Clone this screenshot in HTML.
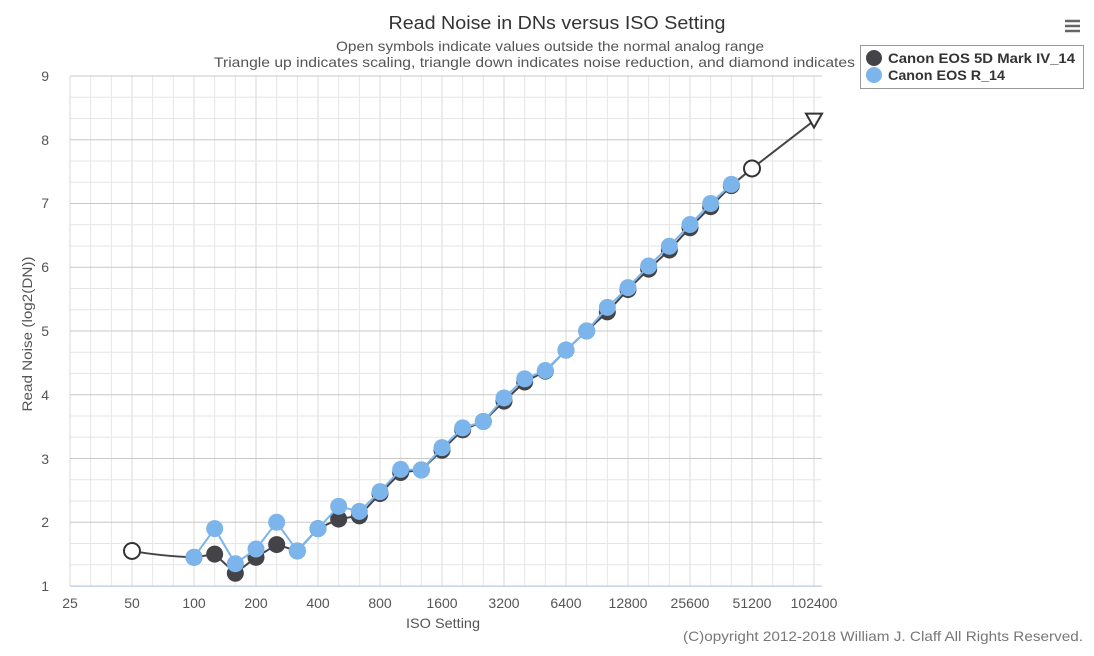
<!DOCTYPE html>
<html><head><meta charset="utf-8"><style>
body{margin:0;background:#fff;width:1094px;height:651px;overflow:hidden;font-family:"Liberation Sans",sans-serif}
</style></head><body>
<svg id="s" width="1094" height="651" xmlns="http://www.w3.org/2000/svg" font-family="Liberation Sans, sans-serif">
<text x="557" y="29" text-anchor="middle" font-size="18" fill="#333" textLength="337" lengthAdjust="spacingAndGlyphs">Read Noise in DNs versus ISO Setting</text>
<text x="550" y="51" text-anchor="middle" font-size="14" fill="#555" textLength="428" lengthAdjust="spacingAndGlyphs">Open symbols indicate values outside the normal analog range</text>
<text x="214" y="67" font-size="14" fill="#555" textLength="654" lengthAdjust="spacingAndGlyphs">Triangle up indicates scaling, triangle down indicates noise reduction, and diamond indicates b</text>
<g id="grid"></g>
<g font-size="14" fill="#555" text-anchor="end">
<text x="49" y="81">9</text><text x="49" y="145">8</text><text x="49" y="208">7</text><text x="49" y="272">6</text><text x="49" y="336">5</text><text x="49" y="400">4</text><text x="49" y="464">3</text><text x="49" y="527">2</text><text x="49" y="591">1</text>
</g>
<g font-size="14" fill="#555" text-anchor="middle">
<text x="70" y="608">25</text><text x="132" y="608">50</text><text x="194" y="608">100</text><text x="256" y="608">200</text><text x="318" y="608">400</text><text x="380" y="608">800</text><text x="442" y="608">1600</text><text x="504" y="608">3200</text><text x="566" y="608">6400</text><text x="628" y="608">12800</text><text x="690" y="608">25600</text><text x="752" y="608">51200</text><text x="814" y="608">102400</text>
</g>
<text x="443" y="628" text-anchor="middle" font-size="14" fill="#555" textLength="74" lengthAdjust="spacingAndGlyphs">ISO Setting</text>
<text transform="translate(32,334) rotate(-90)" text-anchor="middle" font-size="14" fill="#555" textLength="155" lengthAdjust="spacingAndGlyphs">Read Noise (log2(DN))</text>
<text x="1083" y="641" text-anchor="end" font-size="14" fill="#777" textLength="400" lengthAdjust="spacingAndGlyphs">(C)opyright 2012-2018 William J. Claff All Rights Reserved.</text>
<g id="data"></g>
<rect x="860.5" y="45.5" width="223" height="43" fill="#fff" stroke="#999"/>
<circle cx="874" cy="58" r="8" fill="#434348"/><circle cx="874" cy="75" r="8" fill="#7cb5ec"/>
<text x="888" y="63" font-size="14" font-weight="bold" fill="#333" textLength="187" lengthAdjust="spacingAndGlyphs">Canon EOS 5D Mark IV_14</text>
<text x="888" y="80" font-size="14" font-weight="bold" fill="#333" textLength="117" lengthAdjust="spacingAndGlyphs">Canon EOS R_14</text>
<g stroke="#666" stroke-width="2.5"><line x1="1065" y1="21" x2="1080" y2="21"/><line x1="1065" y1="26" x2="1080" y2="26"/><line x1="1065" y1="31" x2="1080" y2="31"/></g>
</svg>
<script>
var NS="http://www.w3.org/2000/svg",g=document.getElementById('grid'),d=document.getElementById('data');
function el(p,t,a){var e=document.createElementNS(NS,t);for(var k in a)e.setAttribute(k,a[k]);p.appendChild(e);return e;}
var L=70,R=822,T=76,B=586;
for(var i=0;i<=36;i++){var x=L+i*62/3;if(x>R+0.5)break;el(g,'line',{x1:x,x2:x,y1:T,y2:B,stroke:i%3?'#e6e6e6':'#d8d8d8'});}
for(var i=0;i<=24;i++){var y=B-i*63.75/3;el(g,'line',{x1:L,x2:R,y1:y,y2:y,stroke:i%3?'#e6e6e6':'#c8c8c8'});}
el(g,'line',{x1:L,x2:R,y1:B+.5,y2:B+.5,stroke:'#ccd6eb'});
function Y(v){return B-(v-1)*63.75}
function X(k){return 194+k*62/3}
var dk=[1.45,1.5,1.2,1.45,1.65,1.55,1.9,2.05,2.1,2.45,2.78,2.82,3.13,3.45,3.58,3.9,4.2,4.37,4.7,5.0,5.3,5.65,5.97,6.27,6.62,6.95,7.28];
var bl=[1.45,1.9,1.35,1.58,2.0,1.55,1.9,2.25,2.17,2.48,2.83,2.82,3.17,3.48,3.58,3.95,4.25,4.38,4.7,5.0,5.37,5.68,6.02,6.33,6.67,7.0,7.3];
var p='M'+X(-3)+','+Y(1.55)+' Q160,'+Y(1.47)+' '+X(0)+','+Y(dk[0]);
dk.forEach(function(v,k){p+=' L'+X(k)+','+Y(v)});
p+=' L'+X(27)+','+Y(7.55)+' L'+X(30)+','+Y(8.3);
el(d,'path',{d:p,fill:'none',stroke:'#434348','stroke-width':2});
dk.forEach(function(v,k){el(d,'circle',{cx:X(k),cy:Y(v),r:8.5,fill:'#434348'})});
var q='';bl.forEach(function(v,k){q+=(k?' L':'M')+X(k)+','+Y(v)});
el(d,'path',{d:q,fill:'none',stroke:'#7cb5ec','stroke-width':2});
bl.forEach(function(v,k){el(d,'circle',{cx:X(k),cy:Y(v),r:8.5,fill:'#7cb5ec'})});
el(d,'circle',{cx:X(-3),cy:Y(1.55),r:8,fill:'#fff',stroke:'#333','stroke-width':2});
el(d,'circle',{cx:X(27),cy:Y(7.55),r:8,fill:'#fff',stroke:'#333','stroke-width':2});
var tx=X(30),ty=Y(8.3);
el(d,'path',{d:'M'+(tx-8)+','+(ty-7)+' L'+(tx+8)+','+(ty-7)+' L'+tx+','+(ty+7)+' Z',fill:'#fff',stroke:'#333','stroke-width':2});
</script>
</body></html>
